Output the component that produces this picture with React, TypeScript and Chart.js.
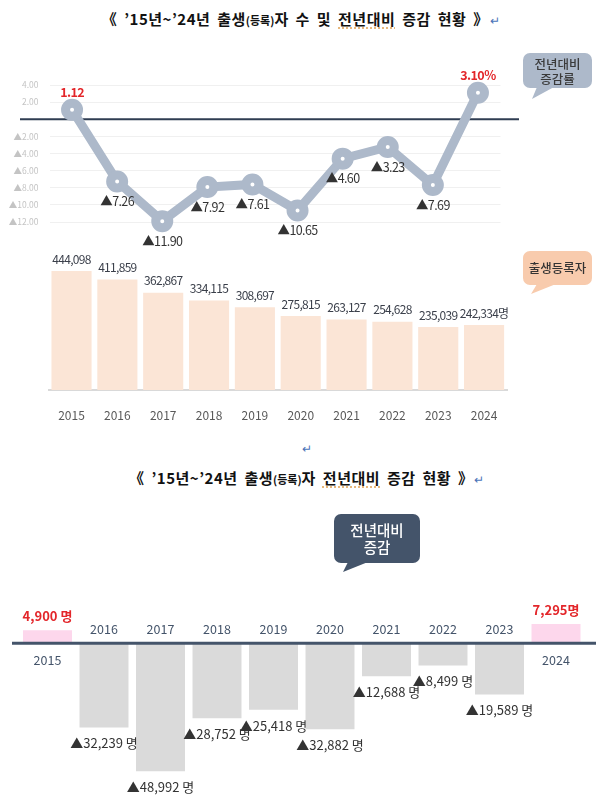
import React, { useEffect, useRef } from 'react';
import { Chart, registerables } from 'chart.js';

Chart.register(...registerables);

const FONT = "'Noto Sans CJK KR', 'Noto Sans', sans-serif";

// ---- data ----
const years = ['2015', '2016', '2017', '2018', '2019', '2020', '2021', '2022', '2023', '2024'];
const rateValues = [1.12, -7.26, -11.9, -7.92, -7.61, -10.65, -4.6, -3.23, -7.69, 3.1];
const birthValues = [444098, 411859, 362867, 334115, 308697, 275815, 263127, 254628, 235039, 242334];
const changeValues = [4900, -32239, -48992, -28752, -25418, -32882, -12688, -8499, -19589, 7295];
const rateTickMin = -12;
const rateTickMax = 4;
const rateTickStep = 2;

function commas(n: number): string {
  return String(Math.abs(n)).replace(/\B(?=(\d{3})+(?!\d))/g, ',');
}

function setSpacing(ctx: any, px: number) {
  if ('letterSpacing' in ctx) ctx.letterSpacing = px + 'px';
}

function useChart(ref: React.RefObject<HTMLCanvasElement | null>, make: (c: HTMLCanvasElement) => Chart) {
  useEffect(() => {
    if (!ref.current) return;
    const chart = make(ref.current);
    return () => chart.destroy();
  }, []);
}

export default function App() {
  const lineRef = useRef<HTMLCanvasElement>(null);
  const barRef = useRef<HTMLCanvasElement>(null);
  const diffRef = useRef<HTMLCanvasElement>(null);

  useChart(lineRef, (canvas) => {
    const last = rateValues.length - 1;
    const decor = {
      id: 'rateDecor',
      beforeDatasetsDraw(chart: any) {
        const ctx = chart.ctx;
        const y = chart.scales.y.getPixelForValue(0);
        ctx.save();
        ctx.strokeStyle = '#2f3d52';
        ctx.lineWidth = 2;
        ctx.beginPath();
        ctx.moveTo(20, y);
        ctx.lineTo(519, y);
        ctx.stroke();
        ctx.restore();
      },
      afterDatasetsDraw(chart: any) {
        const ctx = chart.ctx;
        const meta = chart.getDatasetMeta(0);
        ctx.save();
        ctx.textAlign = 'center';
        ctx.textBaseline = 'middle';
        setSpacing(ctx, -0.6);
        meta.data.forEach((pt: any, i: number) => {
          const v = rateValues[i];
          if (v >= 0) {
            ctx.fillStyle = '#e3262a';
            ctx.font = `bold 12.5px ${FONT}`;
            ctx.fillText(v.toFixed(2) + (i === last ? '%' : ''), pt.x, pt.y - 17);
          } else {
            ctx.fillStyle = '#333333';
            ctx.font = `12.5px ${FONT}`;
            ctx.fillText('▲' + (-v).toFixed(2), pt.x, pt.y + 20);
          }
        });
        ctx.restore();
      },
    };
    return new Chart(canvas, {
      type: 'line',
      data: {
        labels: years,
        datasets: [
          {
            data: rateValues,
            borderColor: '#adb9ca',
            borderWidth: 9,
            pointRadius: 6.5,
            pointBorderWidth: 9,
            pointBackgroundColor: '#ffffff',
            pointBorderColor: '#adb9ca',
            tension: 0,
            clip: false,
          },
        ],
      },
      options: {
        responsive: false,
        animation: false,
        layout: { padding: { left: 0, right: 101.5, top: 25, bottom: 28 } },
        plugins: { legend: { display: false }, tooltip: { enabled: false } },
        scales: {
          x: { type: 'category', offset: true, display: false },
          y: {
            min: rateTickMin,
            max: rateTickMax,
            afterFit(s: any) {
              s.width = 49.5;
            },
            grid: { color: '#f0f0f0', drawTicks: false },
            border: { display: false },
            ticks: {
              stepSize: rateTickStep,
              padding: 11,
              color: '#c4c4c4',
              font: { size: 8.5, family: FONT },
              callback: (v: any) => {
                const n = Number(v);
                if (n === 0) return '';
                return n > 0 ? n.toFixed(2) : '▲' + (-n).toFixed(2);
              },
            },
          },
        },
      },
      plugins: [decor],
    } as any);
  });

  useChart(barRef, (canvas) => {
    const last = birthValues.length - 1;
    const labels = {
      id: 'birthLabels',
      afterDatasetsDraw(chart: any) {
        const ctx = chart.ctx;
        const meta = chart.getDatasetMeta(0);
        ctx.save();
        ctx.textAlign = 'center';
        ctx.textBaseline = 'middle';
        ctx.fillStyle = '#3a3f4a';
        ctx.font = `12px ${FONT}`;
        setSpacing(ctx, -0.7);
        meta.data.forEach((bar: any, i: number) => {
          ctx.fillText(commas(birthValues[i]) + (i === last ? '명' : ''), bar.x, bar.y - 12);
        });
        ctx.restore();
      },
    };
    return new Chart(canvas, {
      type: 'bar',
      data: {
        labels: years,
        datasets: [
          {
            data: birthValues,
            backgroundColor: '#fbe5d6',
            categoryPercentage: 1,
            barPercentage: 0.875,
          },
        ],
      },
      options: {
        responsive: false,
        animation: false,
        layout: { padding: { left: 48.6, right: 95, top: 16, bottom: 0 } },
        plugins: { legend: { display: false }, tooltip: { enabled: false } },
        scales: {
          x: {
            grid: { display: false },
            border: { display: true, color: '#d9d9d9', width: 2 },
            ticks: { color: '#595959', padding: 10, font: { size: 12, family: FONT } },
            afterFit(s: any) {
              s.height = 30;
            },
          },
          y: { display: false, min: 0, max: 500000 },
        },
      },
      plugins: [labels],
    } as any);
  });

  useChart(diffRef, (canvas) => {
    const last = changeValues.length - 1;
    const decor = {
      id: 'diffDecor',
      afterDatasetsDraw(chart: any) {
        const ctx = chart.ctx;
        const zero = chart.scales.y.getPixelForValue(0);
        const meta = chart.getDatasetMeta(0);
        ctx.save();
        ctx.strokeStyle = '#44546a';
        ctx.lineWidth = 3;
        ctx.beginPath();
        ctx.moveTo(12, zero);
        ctx.lineTo(596, zero);
        ctx.stroke();
        ctx.textAlign = 'center';
        ctx.textBaseline = 'middle';
        meta.data.forEach((bar: any, i: number) => {
          const v = changeValues[i];
          ctx.font = `12.5px ${FONT}`;
          ctx.fillStyle = '#44546a';
          if (v >= 0) {
            ctx.fillText(years[i], bar.x, zero + 17);
            ctx.font = `bold 13px ${FONT}`;
            ctx.fillStyle = '#e3262a';
            ctx.fillText(commas(v) + (i === last ? '명' : ' 명'), bar.x, bar.y - 14);
          } else {
            ctx.fillText(years[i], bar.x, zero - 14);
            ctx.font = `13px ${FONT}`;
            ctx.fillStyle = '#333333';
            ctx.fillText('▲' + commas(v) + ' 명', bar.x, bar.y + 16);
          }
        });
        ctx.restore();
      },
    };
    return new Chart(canvas, {
      type: 'bar',
      data: {
        labels: years,
        datasets: [
          {
            data: changeValues,
            backgroundColor: changeValues.map((v) => (v >= 0 ? '#fdd7ec' : '#dadada')),
            categoryPercentage: 1,
            barPercentage: 0.867,
          },
        ],
      },
      options: {
        responsive: false,
        animation: false,
        layout: { padding: { left: 19.25, right: 17.75, top: 27, bottom: 22 } },
        plugins: { legend: { display: false }, tooltip: { enabled: false } },
        scales: {
          x: { display: false },
          y: { display: false, min: -55000, max: 10000 },
        },
      },
      plugins: [decor],
    } as any);
  });

  const small: React.CSSProperties = { fontSize: 11, letterSpacing: 0 };
  const ret: React.CSSProperties = { color: '#4a72b8', fontSize: 12, fontWeight: 400, marginLeft: 1 };
  const squiggle: React.CSSProperties = {
    textDecoration: 'underline dotted',
    textDecorationColor: '#e0a050',
    textUnderlineOffset: 3,
  };
  const titleBase: React.CSSProperties = {
    position: 'absolute',
    left: 0,
    width: 602,
    textAlign: 'center',
    fontSize: 15,
    fontWeight: 700,
    lineHeight: '20px',
    color: '#111',
    whiteSpace: 'nowrap',
    letterSpacing: 0.5,
    wordSpacing: 3,
  };
  const bubbleText = (
    left: number,
    top: number,
    width: number,
    color: string,
    size: number,
    lines: string[],
    lh: number,
    weight: number
  ) => (
    <div
      style={{
        position: 'absolute',
        left,
        top,
        width,
        textAlign: 'center',
        color,
        fontSize: size,
        lineHeight: lh + 'px',
        fontWeight: weight,
      }}
    >
      {lines.map((l) => (
        <div key={l}>{l}</div>
      ))}
    </div>
  );

  return (
    <div
      style={{
        position: 'absolute',
        left: 0,
        top: 0,
        width: 602,
        height: 809,
        background: '#ffffff',
        fontFamily: FONT,
        overflow: 'hidden',
      }}
    >
      <div style={{ ...titleBase, top: 9 }}>
        《 ’15년~’24년 출생<span style={small}>(등록)</span>자 수 및 <span style={squiggle}>전년대비</span> 증감 현황 》
        <span style={ret}>↵</span>
      </div>

      <canvas ref={lineRef} width={602} height={190} style={{ position: 'absolute', left: 0, top: 60 }} />
      <canvas ref={barRef} width={602} height={180} style={{ position: 'absolute', left: 0, top: 240 }} />

      <div style={{ position: 'absolute', left: 302, top: 439, color: '#4a72b8', fontSize: 12 }}>↵</div>

      <div style={{ ...titleBase, left: 6, top: 468 }}>
        《 ’15년~’24년 출생<span style={small}>(등록)</span>자 <span style={squiggle}>전년대비</span> 증감 현황 》
        <span style={ret}>↵</span>
      </div>

      <canvas ref={diffRef} width={602} height={219} style={{ position: 'absolute', left: 0, top: 590 }} />

      <svg width={602} height={809} style={{ position: 'absolute', left: 0, top: 0, pointerEvents: 'none' }}>
        <rect x={523} y={53} width={69} height={35} rx={7} fill="#adb9ca" />
        <polygon points="537,87 554,87 532,99" fill="#adb9ca" />
        <rect x={523} y={251} width={69} height={34} rx={7} fill="#f8cbad" />
        <polygon points="537,284 556,284 531,294" fill="#f8cbad" />
        <rect x={334} y={514} width={86} height={49} rx={7} fill="#44546a" />
        <polygon points="348,562 368,562 343,572" fill="#44546a" />
      </svg>
      {bubbleText(523, 56, 69, '#3a3a3a', 12.5, ['전년대비', '증감률'], 15, 500)}
      {bubbleText(523, 259, 69, '#333333', 12.5, ['출생등록자'], 18, 500)}
      {bubbleText(334, 521, 86, '#ffffff', 14.5, ['전년대비', '증감'], 17, 500)}
    </div>
  );
}
